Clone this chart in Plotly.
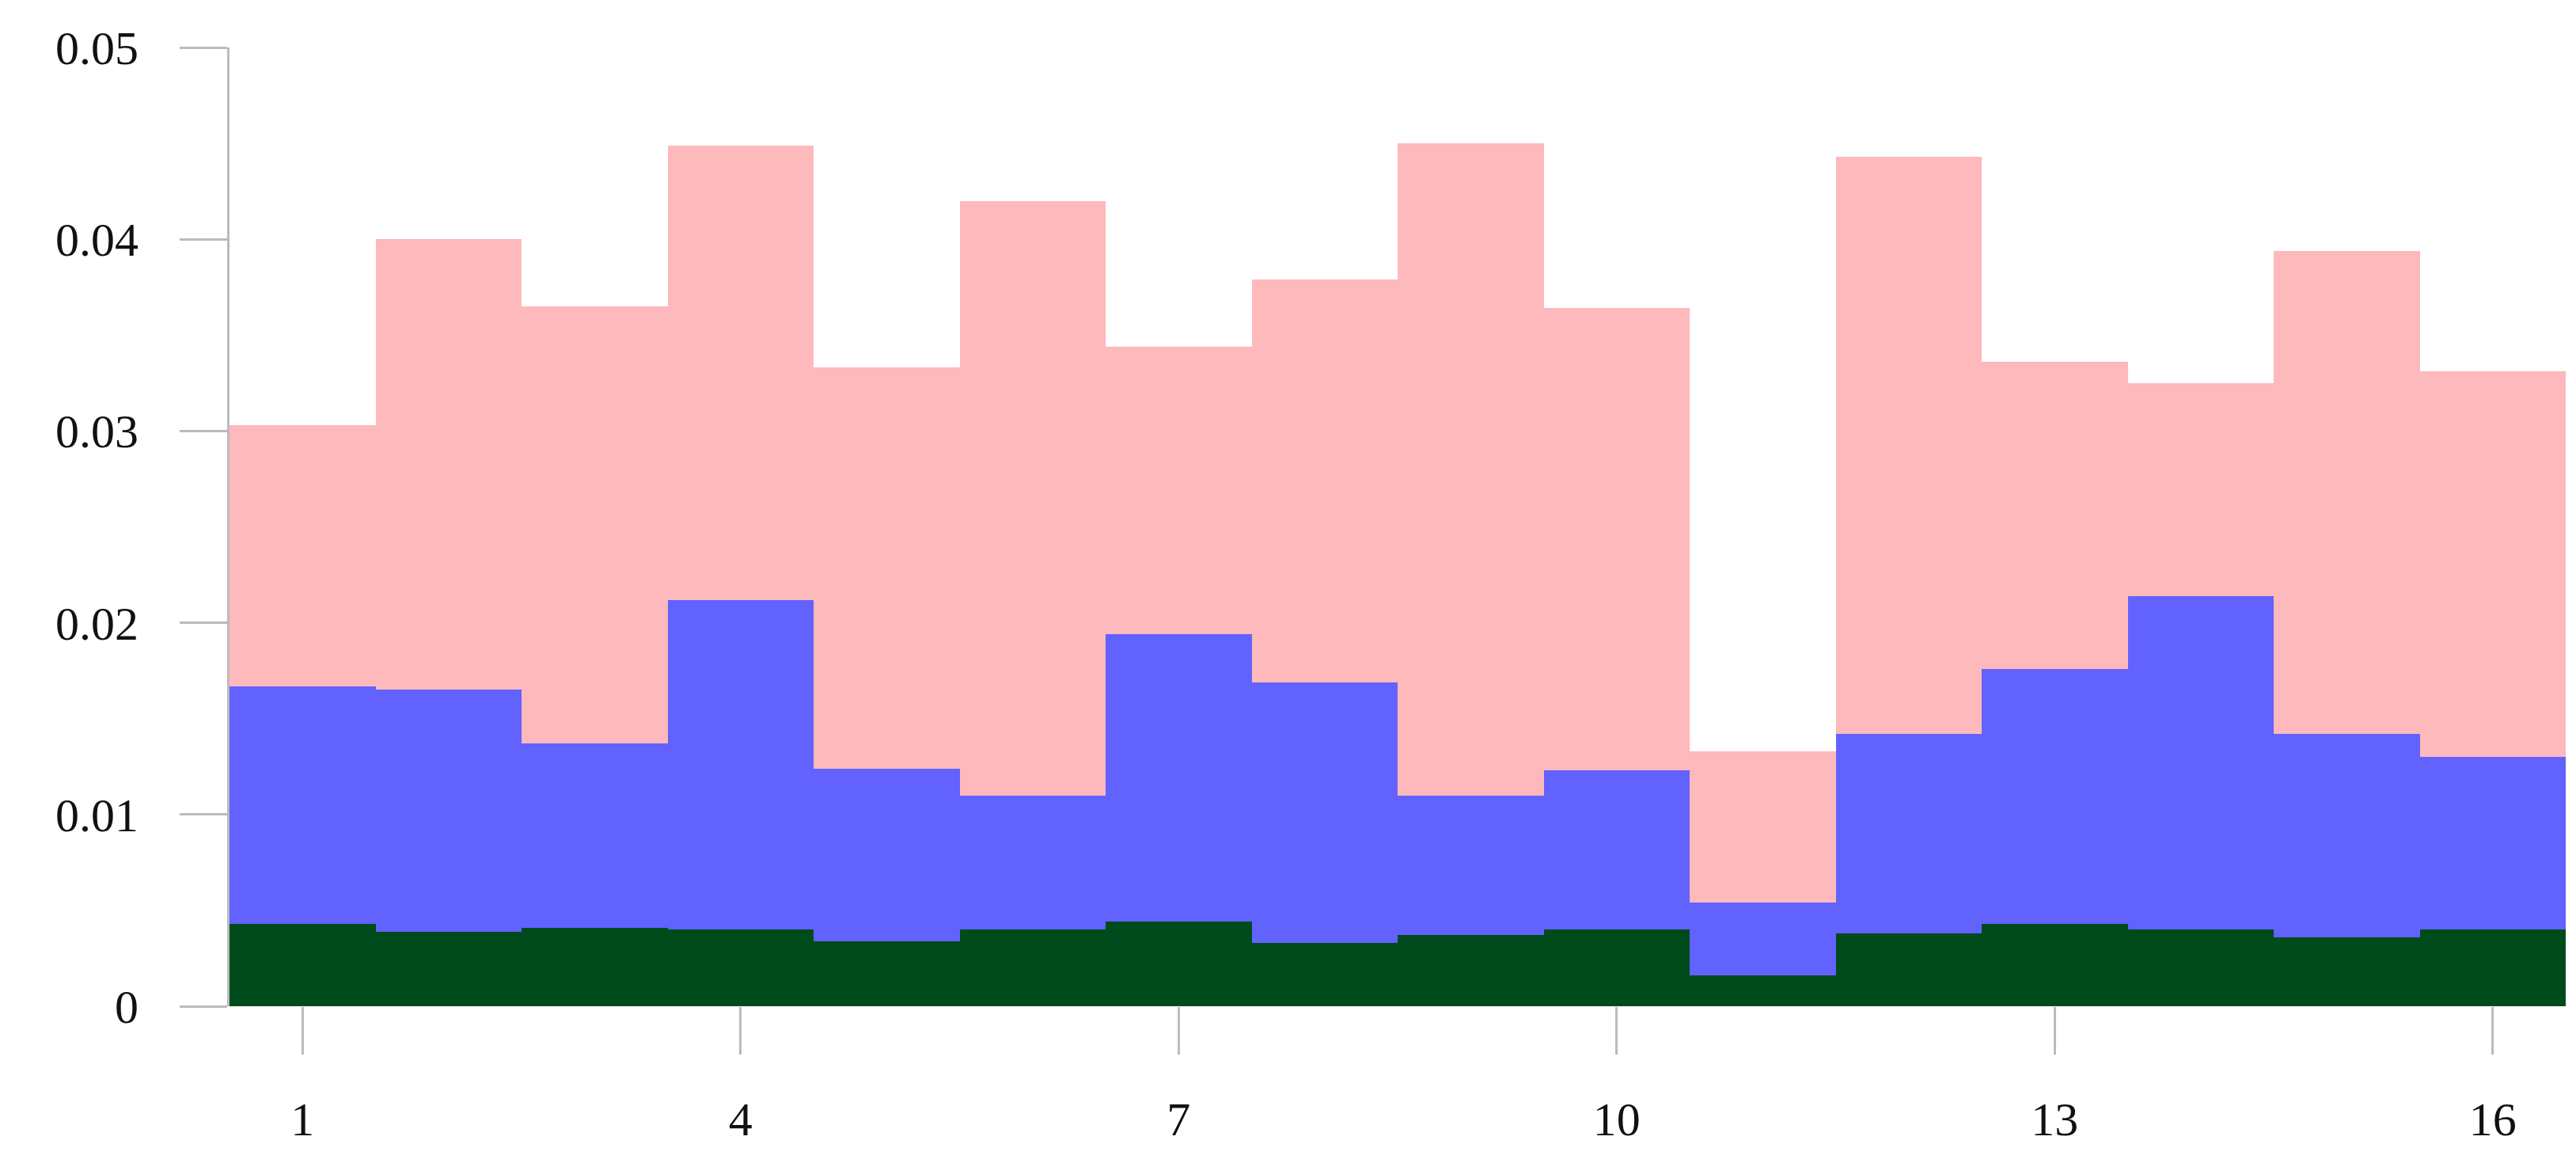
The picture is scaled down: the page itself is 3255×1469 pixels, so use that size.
import plotly.graph_objects as go

categories = list(range(1, 17))
green_top = [0.0043,0.0039,0.0041,0.0040,0.0034,0.0040,0.0044,0.0033,0.0037,0.0040,0.0016,0.0038,0.0043,0.0040,0.0036,0.0040]
blue_top = [0.0167,0.0165,0.0137,0.0212,0.0124,0.0110,0.0194,0.0169,0.0110,0.0123,0.0054,0.0142,0.0176,0.0214,0.0142,0.0130]
pink_top = [0.0303,0.0400,0.0365,0.0449,0.0333,0.0420,0.0344,0.0379,0.0450,0.0364,0.0133,0.0443,0.0336,0.0325,0.0394,0.0331]

green = green_top
blue = [b - g for b, g in zip(blue_top, green_top)]
pink = [p - b for p, b in zip(pink_top, blue_top)]

fig = go.Figure()
for vals, col in [(green, "#004B1B"), (blue, "#6262FE"), (pink, "#FDB9BB")]:
    fig.add_trace(go.Bar(x=categories, y=vals, marker=dict(color=col, line=dict(width=0)), width=1.0))

fig.update_layout(
    barmode="stack", bargap=0, showlegend=False,
    width=3255, height=1469,
    margin=dict(l=282, r=21, t=52, b=206),
    plot_bgcolor="white", paper_bgcolor="white",
    font=dict(family="Liberation Serif", size=60, color="#111"),
)
fig.update_xaxes(range=[0.5, 16.5], tickvals=[1,4,7,10,13,16], ticks="outside", ticklen=60,
                 tickwidth=3, tickcolor="#bbb", showline=False, showgrid=False, zeroline=False,
                 ticklabelstandoff=30)
fig.update_yaxes(range=[0, 0.05], tickvals=[0,0.01,0.02,0.03,0.04,0.05],
                 ticktext=["0","0.01","0.02","0.03","0.04","0.05"],
                 ticks="outside", ticklen=60, tickwidth=3, tickcolor="#bbb",
                 showline=True, linecolor="#bbb", linewidth=3, showgrid=False, zeroline=False,
                 ticklabelstandoff=40)
fig.write_html("out.html")
